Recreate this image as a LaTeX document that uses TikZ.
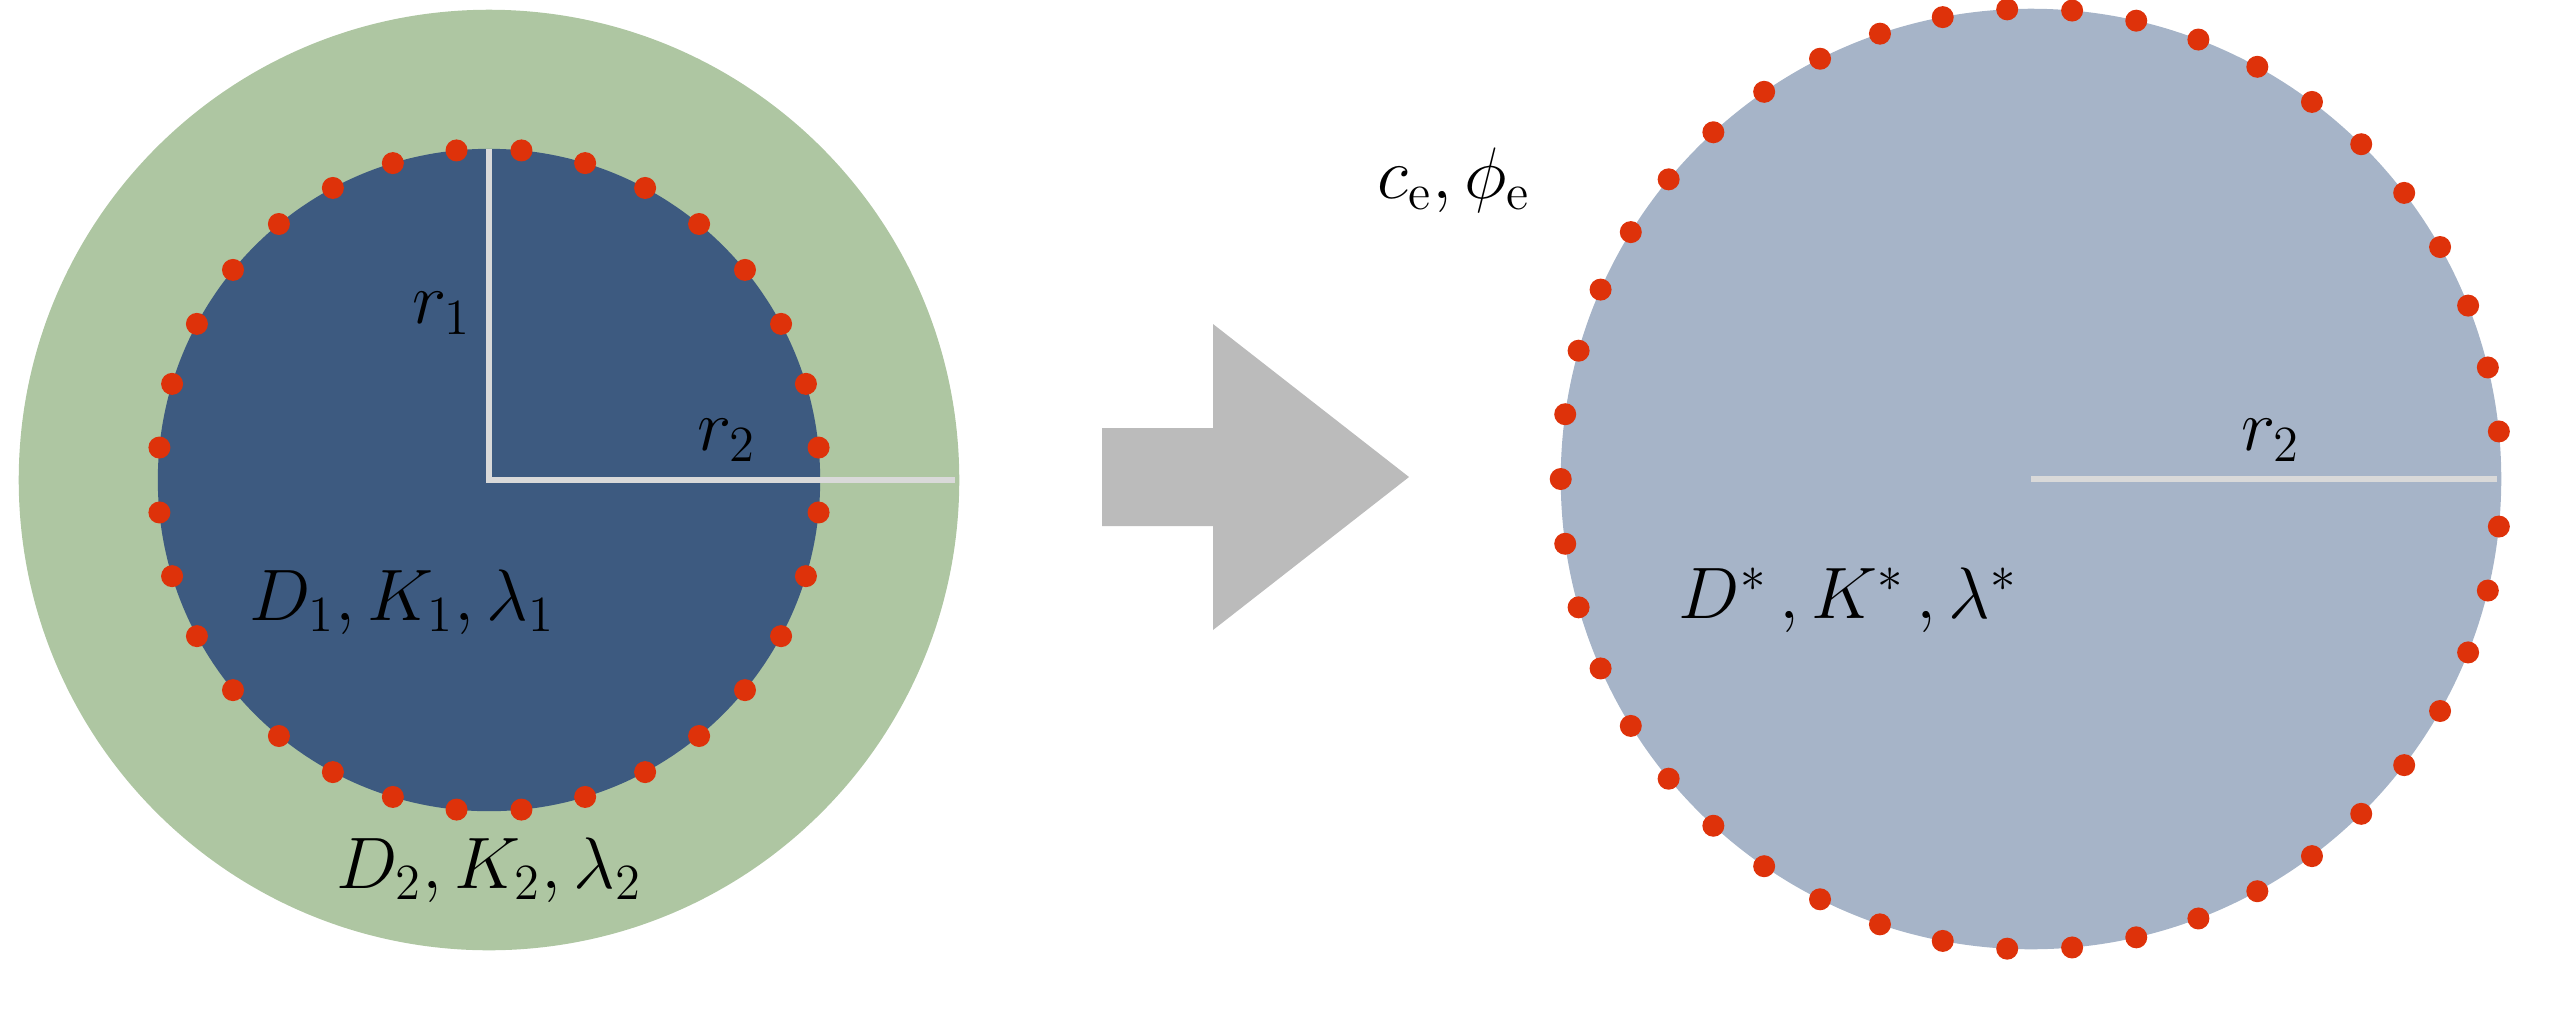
\documentclass[tikz,border=0pt]{standalone}
\usepackage{amsmath}
\usetikzlibrary{calc}
\definecolor{outergreen}{HTML}{AEC6A2}
\definecolor{innerblue}{HTML}{3D5A80}
\definecolor{effblue}{HTML}{A6B4C8}
\definecolor{dotred}{HTML}{DE320A}
\definecolor{arrowgray}{HTML}{BBBBBB}
\definecolor{radline}{HTML}{D9D9D9}
\tikzset{
  disk/.style={circle, inner sep=0pt, outer sep=0pt},
  rdot/.style={circle, fill=dotred, inner sep=0pt, minimum size=0.22cm},
  radius line/.style={draw=radline, line width=1.9pt},
  lbl/.style={inner sep=0pt, font=\fontsize{21}{25}\selectfont}
}
\begin{document}
\begin{tikzpicture}[x=0.01cm, y=-0.01cm]
\useasboundingbox (0,0) rectangle (2560,1008);
% left composite
\node[disk, fill=outergreen, minimum size=9.4cm] (outer) at (489,480) {};
\node[disk, fill=innerblue, minimum size=6.62cm] (inner) at (489,480) {};
\coordinate (c1) at (489,480);
\coordinate (c1top) at (489,149);
\coordinate (c1right) at (955,480);
\draw[radius line] (c1top) -- (c1) -- (c1right);
\foreach \k in {0,...,31}{
  \node[rdot] (ld\k) at ($(c1)+({5.625+11.25*\k}:3.31cm)$) {};
}
\node[lbl] (r1) at (442,313) {$r_1$};
\node[lbl] (r2a) at (727,440) {$r_2$};
\node[lbl] (p1) at (402,602) {$D_1, K_1, \lambda_1$};
\node[lbl] (p2) at (489,870) {$D_2, K_2, \lambda_2$};
% arrow
\fill[arrowgray] (1102,428) -- (1213,428) -- (1213,324) -- (1409,477) -- (1213,630) -- (1213,526) -- (1102,526) -- cycle;
% right effective
\node[disk, fill=effblue, minimum size=9.4cm] (eff) at (2031,479) {};
\coordinate (c2) at (2031,479);
\coordinate (c2right) at (2497,479);
\draw[radius line] (c2) -- (c2right);
\foreach \k in {-22,...,22}{
  \node[rdot] (rd\k) at ($(c2)+({180+7.918*\k}:4.7cm)$) {};
}
\node[lbl] (ce) at (1454,180) {$c_{\mathrm{e}}, \phi_{\mathrm{e}}$};
\node[lbl] (r2b) at (2271,440) {$r_2$};
\node[lbl] (pe) at (1848,600) {$D^{*}\,, K^{*}\,, \lambda^{*}$};
\end{tikzpicture}
\end{document}
